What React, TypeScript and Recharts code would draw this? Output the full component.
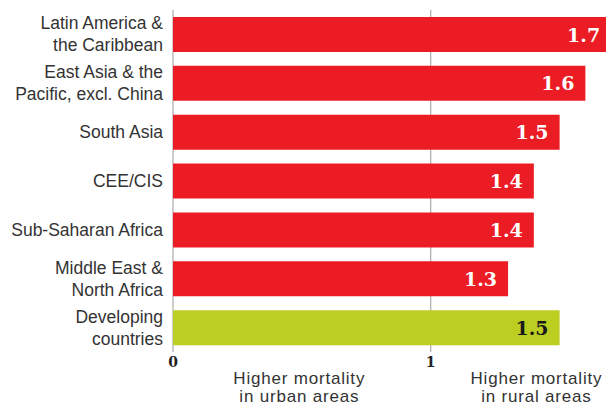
import React from "react";
import { BarChart, Bar, XAxis, YAxis, CartesianGrid, Cell, LabelList } from "recharts";

const regions = [
  "Latin America &\nthe Caribbean",
  "East Asia & the\nPacific, excl. China",
  "South Asia",
  "CEE/CIS",
  "Sub-Saharan Africa",
  "Middle East &\nNorth Africa",
  "Developing\ncountries",
];
const ratios = [1.7, 1.6, 1.5, 1.4, 1.4, 1.3, 1.5];
const isAggregate = [false, false, false, false, false, false, true];
const axisTicks = [0, 1];
const axisMax = 1.68;
const noteTicks = [0.49, 1.41];
const noteLabels = ["Higher mortality\nin urban areas", "Higher mortality\nin rural areas"];

const RED = "#EB1C24";
const GREEN = "#BDCE23";
const TEXT = "#333333";
const SANS = "'Liberation Sans', Arial, sans-serif";
const SERIF = "'DejaVu Serif', serif";

const data = regions.map((name, i) => ({ name, value: ratios[i], agg: isAggregate[i] }));

const YTick = (props: any) => {
  const { y, payload } = props;
  const lines = String(payload.value).split("\n");
  const n = lines.length;
  const tx = 163;
  return (
    <text x={tx} y={y} textAnchor="end" fill={TEXT} fontFamily={SANS} fontSize={17.5}>
      {lines.map((l, i) => (
        <tspan key={i} x={tx} y={y + (i - (n - 1) / 2) * 22 + 6}>
          {l}
        </tspan>
      ))}
    </text>
  );
};

const XTick = (props: any) => {
  const { x, payload } = props;
  return (
    <text x={x} y={367} textAnchor="middle" fill="#222" fontFamily={SERIF} fontWeight="bold" fontSize={14}>
      {payload.value}
    </text>
  );
};

const NoteTick = (props: any) => {
  const { x, payload } = props;
  const idx = noteTicks.indexOf(payload.value);
  const lines = (noteLabels[idx] || "").split("\n");
  return (
    <text x={x} textAnchor="middle" fill={TEXT} fontFamily={SANS} fontSize={17} letterSpacing={0.8}>
      {lines.map((l, i) => (
        <tspan key={i} x={x} y={384 + i * 18}>
          {l}
        </tspan>
      ))}
    </text>
  );
};

const ValueLabel = (props: any) => {
  const { x, y, width, height, value, index } = props;
  const agg = data[index]?.agg;
  return (
    <text
      x={x + width - 11}
      y={y + height / 2 + 7}
      textAnchor="end"
      fill={agg ? "#1a1a1a" : "#ffffff"}
      fontFamily={SERIF}
      fontWeight="bold"
      fontSize={19}
    >
      {Number(value).toFixed(1)}
    </text>
  );
};

const gridX = (p: any) => {
  const scale = p?.xAxis?.scale;
  if (scale && typeof scale === "function") return axisTicks.map((t) => scale(t));
  const off = p?.offset || { left: 173, width: 433 };
  return axisTicks.map((t) => off.left + (t / axisMax) * off.width);
};

export default function App() {
  return (
    <div style={{ position: "absolute", left: 0, top: 0, width: 606, height: 406, background: "#fff" }}>
      <BarChart
        width={606}
        height={406}
        data={data}
        layout="vertical"
        margin={{ top: 10, right: 0, bottom: 0, left: 0 }}
        barSize={35}
      >
        <CartesianGrid
          horizontal={false}
          vertical={true}
          stroke="#9a9a9a"
          strokeWidth={1}
          verticalCoordinatesGenerator={gridX}
        />
        <XAxis
          type="number"
          domain={[0, axisMax]}
          allowDataOverflow
          ticks={axisTicks}
          tick={<XTick />}
          axisLine={false}
          tickLine={false}
          height={14}
        />
        <XAxis
          xAxisId="notes"
          type="number"
          domain={[0, axisMax]}
          allowDataOverflow
          ticks={noteTicks}
          tick={<NoteTick />}
          axisLine={false}
          tickLine={false}
          height={40}
        />
        <YAxis
          type="category"
          dataKey="name"
          width={173}
          tick={<YTick />}
          axisLine={false}
          tickLine={false}
          interval={0}
        />
        <Bar dataKey="value" isAnimationActive={false}>
          {data.map((d, i) => (
            <Cell key={i} fill={d.agg ? GREEN : RED} />
          ))}
          <LabelList dataKey="value" content={<ValueLabel />} />
        </Bar>
      </BarChart>
    </div>
  );
}
